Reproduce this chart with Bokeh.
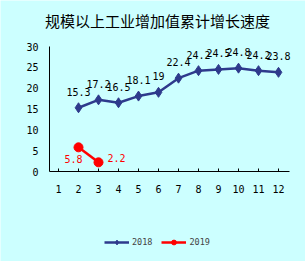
from bokeh.plotting import figure
from bokeh.models import (ColumnDataSource, FixedTicker, Legend, LegendItem, Range1d,
                          LinearAxis, Label)
from bokeh.core.properties import value
from bokeh.embed import file_html
from bokeh.resources import INLINE

title_text = "规模以上工业增加值累计增长速度"
months_axis = [1, 2, 3, 4, 5, 6, 7, 8, 9, 10, 11, 12]
y_ticks = [0, 5, 10, 15, 20, 25, 30]

months_2018 = [2, 3, 4, 5, 6, 7, 8, 9, 10, 11, 12]
growth_2018 = [15.3, 17.2, 16.5, 18.1, 19, 22.4, 24.2, 24.5, 24.8, 24.2, 23.8]

months_2019 = [2, 3]
growth_2019 = [5.8, 2.2]

BG = "#CCFFFF"
BLUE = "#2E3A8C"
RED = "#FF0000"
MONO = "DejaVu Sans Mono"

# frame covers the whole canvas; axes are pinned inside it
p = figure(width=305, height=261, output_backend="svg", toolbar_location=None,
           x_range=Range1d(-1.9, 13.35), y_range=Range1d(-21.6, 41.04),
           x_axis_location=None, y_axis_location=None, min_border=0)
p.background_fill_color = BG
p.border_fill_color = BG
p.outline_line_color = None
p.xgrid.visible = False
p.ygrid.visible = False

xaxis = LinearAxis(fixed_location=0, bounds=(0.55, 12.55),
                   ticker=FixedTicker(ticks=months_axis))
yaxis = LinearAxis(fixed_location=0.55, bounds=(0, 30),
                   ticker=FixedTicker(ticks=y_ticks))
for ax in (xaxis, yaxis):
    ax.axis_line_color = "black"
    ax.axis_line_width = 1
    ax.minor_tick_line_color = None
    ax.major_label_text_font = MONO
    ax.major_label_text_font_size = "10px"
    ax.major_label_text_color = "black"
xaxis.major_tick_in = 3
xaxis.major_tick_out = 0
xaxis.major_tick_line_color = "black"
xaxis.major_label_standoff = 13
yaxis.major_tick_in = 0
yaxis.major_tick_out = 0
yaxis.major_label_standoff = 11
p.add_layout(xaxis, "below")
p.add_layout(yaxis, "left")

s18 = ColumnDataSource(dict(x=months_2018, y=growth_2018,
                            t=[f"{v:g}" for v in growth_2018]))
s19 = ColumnDataSource(dict(x=months_2019, y=growth_2019,
                            t=[f"{v:g}" for v in growth_2019],
                            dx=[-5, 18], dy=[12, -4]))

l18 = p.line("x", "y", source=s18, line_color=BLUE, line_width=2.5)
m18 = p.scatter("x", "y", source=s18, marker="diamond", size=10,
                fill_color=BLUE, line_color=BLUE)
l19 = p.line("x", "y", source=s19, line_color=RED, line_width=2.5)
m19 = p.scatter("x", "y", source=s19, marker="circle", size=9,
                fill_color=RED, line_color=RED)

p.text("x", "y", text="t", source=s18, text_align="center", text_baseline="middle",
       y_offset=-16, text_font=value(MONO), text_font_size="10px", text_color="black")
p.text("x", "y", text="t", source=s19, text_align="center", text_baseline="middle",
       x_offset="dx", y_offset="dy", text_font=value(MONO), text_font_size="10px",
       text_color=RED)

p.add_layout(Label(x=157, y=241, x_units="screen", y_units="screen", text=title_text,
                   text_align="center", text_baseline="middle",
                   text_font="Noto Sans CJK SC", text_font_size="15px", text_color="black"))

legend = Legend(items=[LegendItem(label="2018", renderers=[l18, m18]),
                       LegendItem(label="2019", renderers=[l19, m19])],
                location=(104, 13), orientation="horizontal",
                glyph_width=25, glyph_height=12, label_height=12, label_standoff=3,
                spacing=9, padding=0, margin=0,
                label_text_font=MONO, label_text_font_size="8.5px",
                border_line_color=None, background_fill_alpha=0)
p.add_layout(legend, "center")

open("out.html", "w").write(file_html(p, INLINE))
